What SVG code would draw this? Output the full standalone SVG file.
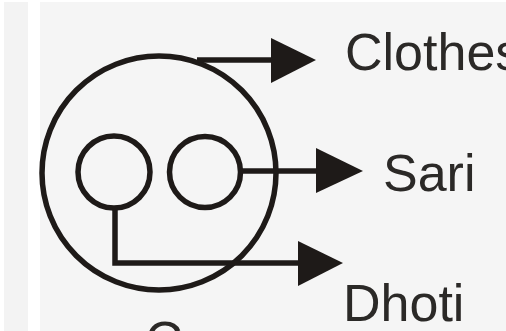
<svg xmlns="http://www.w3.org/2000/svg" width="506" height="331" viewBox="0 0 506 331">
<style>
.ln{fill:none;stroke:#1e1a18;stroke-width:5.5}
.ah{fill:#1e1a18}
.t{font-family:"Liberation Sans",Arial,sans-serif;font-size:52px;fill:#2b2927}
</style>
<rect width="506" height="331" fill="#ffffff"/>
<rect x="4" y="2" width="24" height="329" fill="#f3f3f3"/>
<rect x="40" y="2" width="466" height="329" fill="#f5f5f5"/>
<g id="outer"><circle class="ln" cx="159" cy="173" r="117"/></g>
<g id="left-circle"><circle class="ln" cx="114" cy="172" r="36"/></g>
<g id="right-circle"><circle class="ln" cx="205" cy="172" r="35.5"/></g>
<g id="connectors">
<path class="ln" d="M197 60H275"/>
<polygon class="ah" points="271,38 316,60 271,83"/>
<path class="ln" d="M240 171H320"/>
<polygon class="ah" points="316,148 363,171 316,193"/>
<path class="ln" d="M115 208V263H302"/>
<polygon class="ah" points="298,241 343,263 298,286"/>
</g>
<g id="clothes"><text class="t" x="345" y="70">Clothes</text></g>
<g id="sari"><text class="t" x="383" y="191">Sari</text></g>
<g id="dhoti"><text class="t" x="343" y="321">Dhoti</text></g>
<g id="cut"><text class="t" x="145" y="358">C</text></g>
</svg>
